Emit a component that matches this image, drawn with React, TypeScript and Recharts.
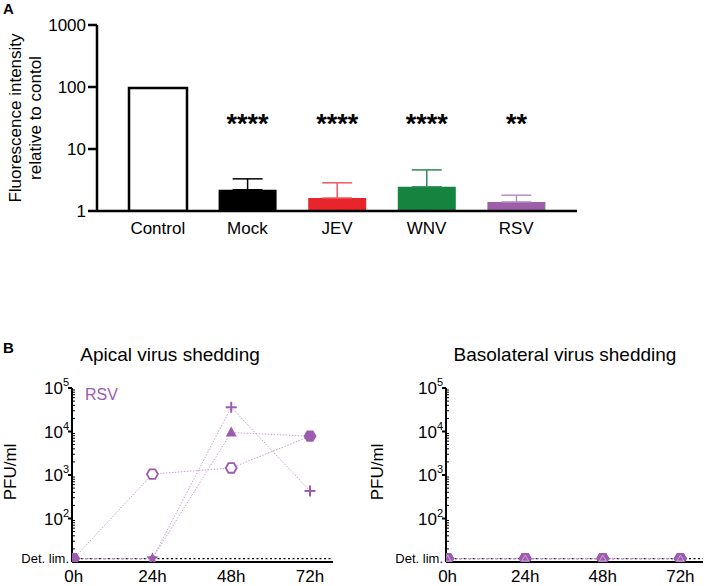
import React from 'react';
import {
  BarChart,
  Bar,
  Cell,
  XAxis,
  YAxis,
  ErrorBar,
  LabelList,
  LineChart,
  Line,
  ReferenceLine
} from 'recharts';

const FONT = '"Liberation Sans", Arial, Helvetica, sans-serif';
const PURPLE = '#9d5baf';
const LINE_PURPLE = '#c7a0d1';

// ---- panel A: fluorescence bars ----
const groups = ['Control', 'Mock', 'JEV', 'WNV', 'RSV'];
const meanIntensity = [96, 2.2, 1.62, 2.45, 1.4];
const sdTop = [0, 3.3, 2.85, 4.6, 1.8];
const stars = ['', '****', '****', '****', '**'];
const barFills = ['#ffffff', '#000000', '#e8252b', '#15843f', '#9d5fa8'];
const errColors = ['#000000', '#000000', '#ea5a5e', '#2f8a52', '#b88ec4'];
const intensityTicks = [1, 10, 100, 1000];

const barData = groups.map((g, i) => ({
  group: g,
  value: meanIntensity[i],
  sig: stars[i],
  ['err' + g]: sdTop[i] ? [0, sdTop[i] - meanIntensity[i]] : undefined
}));

// ---- panel B: virus shedding ----
const hours = [0, 24, 48, 72];
const DET_LIM = 12;
const apicalHexagon = [DET_LIM, 1050, 1450, 7800];
const apicalPlus = [DET_LIM, DET_LIM, 36000, 430];
const apicalTriangle = [DET_LIM, DET_LIM, 9500, 7800];
const basoHexagon = [DET_LIM, DET_LIM, DET_LIM, DET_LIM];
const basoPlus = [DET_LIM, DET_LIM, DET_LIM, DET_LIM];
const basoTriangle = [DET_LIM, DET_LIM, DET_LIM, DET_LIM];
const pfuMajor = [100, 1000, 10000, 100000];
const pfuMinor = [10, 100, 1000, 10000].flatMap((d) => [2, 3, 4, 5, 6, 7, 8, 9].map((m) => m * d));
const pfuTicks = [DET_LIM, ...pfuMinor, ...pfuMajor].sort((a, b) => a - b);

// marker per point (style only)
const hexMarks = ['hexFill', 'hexOpen', 'hexOpen', 'hexFill'];
const plusMarks = ['none', 'star', 'plus', 'plus'];
const triMarks = ['none', 'star', 'triangle', 'none'];
const basoMarks = ['hexTri', 'hexTri', 'hexTri', 'hexTri'];

const apicalData = hours.map((h, i) => ({
  h,
  hex: apicalHexagon[i],
  plus: apicalPlus[i],
  tri: apicalTriangle[i]
}));
const basoData = hours.map((h, i) => ({
  h,
  hex: basoHexagon[i],
  plus: basoPlus[i],
  tri: basoTriangle[i]
}));

const hexPoints = (cx: number, cy: number, r: number) =>
  [0, 60, 120, 180, 240, 300]
    .map((a) => `${cx + r * Math.cos((a * Math.PI) / 180)},${cy + r * Math.sin((a * Math.PI) / 180)}`)
    .join(' ');

const starPoints = (cx: number, cy: number, r: number) => {
  const pts: string[] = [];
  for (let k = 0; k < 10; k++) {
    const rad = k % 2 === 0 ? r : r * 0.45;
    const a = -Math.PI / 2 + (k * Math.PI) / 5;
    pts.push(`${cx + rad * Math.cos(a)},${cy + rad * Math.sin(a)}`);
  }
  return pts.join(' ');
};

const Marker = ({ cx, cy, kind }: { cx?: number; cy?: number; kind: string }) => {
  if (cx == null || cy == null || kind === 'none') return <g />;
  switch (kind) {
    case 'hexFill':
      return <polygon points={hexPoints(cx, cy, 6.5)} fill={PURPLE} />;
    case 'hexOpen':
      return <polygon points={hexPoints(cx, cy, 5.5)} fill="#fff" stroke={PURPLE} strokeWidth={1.8} />;
    case 'hexTri':
      return (
        <g>
          <polygon points={hexPoints(cx, cy, 6.5)} fill={PURPLE} />
          <polygon
            points={`${cx},${cy - 3.5} ${cx + 3.5},${cy + 2.5} ${cx - 3.5},${cy + 2.5}`}
            fill="none"
            stroke="#d9bde2"
            strokeWidth={0.8}
          />
        </g>
      );
    case 'star':
      return <polygon points={starPoints(cx, cy, 6)} fill={PURPLE} />;
    case 'plus':
      return (
        <g stroke={PURPLE} strokeWidth={2}>
          <line x1={cx - 5.5} x2={cx + 5.5} y1={cy} y2={cy} />
          <line x1={cx} x2={cx} y1={cy - 5.5} y2={cy + 5.5} />
        </g>
      );
    case 'triangle':
      return <polygon points={`${cx},${cy - 6} ${cx + 5.5},${cy + 4} ${cx - 5.5},${cy + 4}`} fill={PURPLE} />;
    default:
      return <g />;
  }
};

const PfuTick = (props: any) => {
  const { x, y, payload } = props;
  const v = payload.value;
  if (v === DET_LIM) {
    return (
      <text x={x - 3} y={y + 4.5} textAnchor="end" fontSize={13} fill="#000">
        Det. lim.
      </text>
    );
  }
  const exp = Math.log10(v);
  if (Math.abs(exp - Math.round(exp)) < 1e-9) {
    return (
      <g>
        <line x1={x - 4} x2={x} y1={y} y2={y} stroke="#000" strokeWidth={2} />
        <text x={x - 3} y={y + 6} textAnchor="end" fontSize={17} fill="#000">
          10<tspan dy={-8} fontSize={11}>{Math.round(exp)}</tspan>
        </text>
      </g>
    );
  }
  return <line x1={x - 1} x2={x + 3} y1={y} y2={y} stroke="#000" strokeWidth={1} />;
};

type Marks = { hex: string[]; plus: string[]; tri: string[] };

const ShedPanel = ({
  data,
  width,
  axisWidth,
  rightMargin,
  labelX,
  marks
}: {
  data: typeof apicalData;
  width: number;
  axisWidth: number;
  rightMargin: number;
  labelX: number;
  marks: Marks;
}) => (
  <LineChart width={width} height={216} data={data} margin={{ top: 18, right: rightMargin, left: 0, bottom: 0 }}>
    <XAxis
      type="number"
      dataKey="h"
      domain={[-0.5, 79]}
      ticks={hours}
      tickFormatter={(h: number) => `${h}h`}
      tickLine={false}
      tickSize={0}
      tickMargin={8}
      height={24}
      axisLine={{ stroke: '#000', strokeWidth: 2 }}
      tick={{ fill: '#000', fontSize: 17 }}
      allowDataOverflow
    />
    <YAxis
      scale="log"
      domain={[10, 100000]}
      ticks={pfuTicks}
      interval={0}
      allowDataOverflow
      width={axisWidth}
      tickLine={false}
      tickSize={0}
      tickMargin={0}
      axisLine={{ stroke: '#000', strokeWidth: 2 }}
      tick={(p: any) => <PfuTick {...p} />}
      label={{
        content: () => (
          <text transform={`translate(${labelX},102) rotate(-90)`} textAnchor="middle" fontSize={17} fill="#000">
            PFU/ml
          </text>
        )
      }}
    />
    <ReferenceLine y={DET_LIM} stroke="#000" strokeWidth={1.3} strokeDasharray="2 2.5" />
    {(['hex', 'plus', 'tri'] as const).map((key) => (
      <Line
        key={key}
        dataKey={key}
        stroke={LINE_PURPLE}
        strokeWidth={1}
        strokeDasharray="1.5 1.5"
        isAnimationActive={false}
        dot={(p: any) => <Marker key={`${key}-${p.index}`} cx={p.cx} cy={p.cy} kind={marks[key][p.index]} />}
        activeDot={false}
      />
    ))}
  </LineChart>
);

export default function App() {
  return (
    <div
      style={{
        position: 'absolute',
        left: 0,
        top: 0,
        width: 708,
        height: 586,
        background: '#fff',
        fontFamily: FONT
      }}
    >
      <div style={{ position: 'absolute', left: 0, top: 0 }}>
        <BarChart width={600} height={250} data={barData} margin={{ top: 25, right: 23, left: 0, bottom: 9 }}>
          <XAxis
            dataKey="group"
            padding={{ left: 16, right: 16 }}
            tickLine={false}
            tickSize={0}
            tickMargin={11}
            height={30}
            axisLine={{ stroke: '#000', strokeWidth: 2.5 }}
            tick={{ fill: '#000', fontSize: 17 }}
          />
          <YAxis
            scale="log"
            domain={[1, 1000]}
            ticks={intensityTicks}
            interval={0}
            allowDataOverflow
            width={97}
            tickSize={9}
            tickMargin={2}
            tickLine={{ stroke: '#000', strokeWidth: 2.5 }}
            axisLine={{ stroke: '#000', strokeWidth: 2.5 }}
            tick={{ fill: '#000', fontSize: 17 }}
            label={{
              content: () => (
                <g fontSize={17} fill="#000">
                  <text transform="translate(21,118) rotate(-90)" textAnchor="middle">
                    Fluorescence intensity
                  </text>
                  <text transform="translate(41,118) rotate(-90)" textAnchor="middle">
                    relative to contol
                  </text>
                </g>
              )
            }}
          />
          <Bar dataKey="value" barSize={58} isAnimationActive={false}>
            {barData.map((d, i) => (
              <Cell
                key={d.group}
                fill={barFills[i]}
                stroke={i === 0 ? '#000' : 'none'}
                strokeWidth={i === 0 ? 2.5 : 0}
              />
            ))}
            {groups.slice(1).map((g, i) => (
              <ErrorBar
                key={g}
                dataKey={'err' + g}
                width={15}
                stroke={errColors[i + 1]}
                strokeWidth={1.5}
              />
            ))}
            <LabelList
              dataKey="sig"
              content={(p: any) =>
                p.value ? (
                  <text
                    x={p.x + p.width / 2}
                    y={133}
                    textAnchor="middle"
                    fontSize={27}
                    fontWeight="bold"
                    fill="#000"
                  >
                    {p.value}
                  </text>
                ) : null
              }
            />
          </Bar>
        </BarChart>
      </div>

      <div style={{ position: 'absolute', left: 0, top: 370 }}>
        <ShedPanel
          data={apicalData}
          width={345}
          axisWidth={72}
          rightMargin={12}
          labelX={16}
          marks={{ hex: hexMarks, plus: plusMarks, tri: triMarks }}
        />
      </div>
      <div style={{ position: 'absolute', left: 360, top: 370 }}>
        <ShedPanel
          data={basoData}
          width={348}
          axisWidth={86}
          rightMargin={5}
          labelX={23}
          marks={{ hex: basoMarks, plus: basoMarks, tri: basoMarks }}
        />
      </div>

      <svg width={708} height={586} style={{ position: 'absolute', left: 0, top: 0, pointerEvents: 'none' }}>
        <text x={3} y={14} fontSize={15} fontWeight="bold" fill="#000">A</text>
        <text x={3} y={353} fontSize={15} fontWeight="bold" fill="#000">B</text>
        <text x={170} y={361} fontSize={19} textAnchor="middle" fill="#000">Apical virus shedding</text>
        <text x={565} y={361} fontSize={19} textAnchor="middle" fill="#000">Basolateral virus shedding</text>
        <text x={85} y={400} fontSize={16} fill={PURPLE}>RSV</text>
      </svg>
    </div>
  );
}
